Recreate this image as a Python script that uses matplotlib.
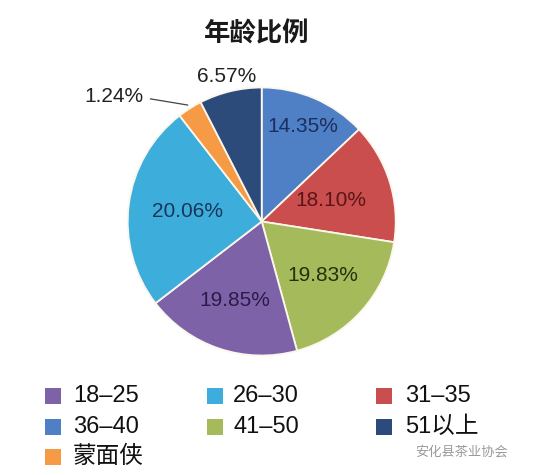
import numpy as np
import matplotlib
matplotlib.use("Agg")
import matplotlib.pyplot as plt
from matplotlib.patches import Rectangle

plt.rcParams['font.family'] = ['Liberation Sans', 'Noto Sans CJK SC', 'DejaVu Sans']

# ---- data (pie order: clockwise from 12 o'clock) ----
title = "年龄比例"
categories = ["36-40", "31-35", "41-50", "18-25", "26-30", "蒙面侠", "51以上"]
# slice shares as drawn in the picture (percent of the circle)
shares = [12.94, 14.53, 18.28, 18.81, 24.94, 2.97, 7.53]
# printed percentage labels
pct_labels = ["14.35%", "18.10%", "19.83%", "19.85%", "20.06%", "1.24%", "6.57%"]
legend_order = ["18-25", "26-30", "31-35", "36-40", "41-50", "51以上", "蒙面侠"]
watermark = "安化县茶业协会"

# ---- styles ----
colors = {
    "36-40": "#4F7FC4",
    "31-35": "#C94E4D",
    "41-50": "#A5BB5B",
    "18-25": "#7E62A8",
    "26-30": "#3DAEDB",
    "蒙面侠": "#F79A45",
    "51以上": "#2C4B7A",
}
label_colors = ["#1B2F5E", "#5A1616", "#22300E", "#2A1B48", "#18365A", "#222222", "#222222"]
label_dist = [0.77, 0.54, 0.61, 0.62, 0.56, None, 1.11]

W, H = 533, 475
fig = plt.figure(figsize=(W / 100, H / 100), dpi=100)
fig.patch.set_facecolor("white")

cx, cy, r = 261.7, 221.5, 134.0
ax = fig.add_axes([(cx - r) / W, (H - cy - r) / H, 2 * r / W, 2 * r / H])
wedges, _ = ax.pie(shares, colors=[colors[c] for c in categories], startangle=90,
                   counterclock=False, radius=1.0,
                   wedgeprops=dict(edgecolor="#FBF7EC", linewidth=1.3))
ax.set_xlim(-1, 1)
ax.set_ylim(-1, 1)
ax.set_aspect("equal", adjustable="box")
ax.axis("off")

for w, lab, col, d in zip(wedges, pct_labels, label_colors, label_dist):
    mid = np.deg2rad((w.theta1 + w.theta2) / 2)
    if d is not None:
        ax.text(d * np.cos(mid), d * np.sin(mid), lab, ha="center", va="center",
                fontsize=15, color=col)
    else:
        ex, ey = 1.03 * np.cos(mid), 1.03 * np.sin(mid)
        ax.plot([-0.83, ex], [0.915, ey], color="#444444", lw=0.9, clip_on=False)
        ax.text(-1.10, 0.93, lab, ha="center", va="center", fontsize=15, color=col)

fig.text(256.7 / W, 1 - 34 / H, title, ha="center", va="center", fontsize=19,
         fontweight="bold", color="#1a1a1a", family=['Noto Sans CJK SC'])

# ---- legend (row-major, 3 columns) ----
col_marker_x = [45, 207, 376]
col_text_x = [73, 233, 405]
row_y = [396, 427, 457]
msz = 16
for i, cat in enumerate(legend_order):
    rr, cc = divmod(i, 3)
    y = row_y[rr]
    fig.add_artist(Rectangle((col_marker_x[cc] / W, (H - y - msz / 2) / H), msz / W, msz / H,
                             transform=fig.transFigure, facecolor=colors[cat], edgecolor="none"))
    fig.text(col_text_x[cc] / W, 1 - y / H, cat.replace("-", "–"), ha="left", va="center",
             fontsize=17, color="#111111")

fig.text(462 / W, 1 - 452 / H, watermark, ha="center", va="center", fontsize=9.5,
         color="#9a9a9a", family=['Noto Sans CJK SC'])

fig.savefig("out.png", dpi=100, facecolor="white")
